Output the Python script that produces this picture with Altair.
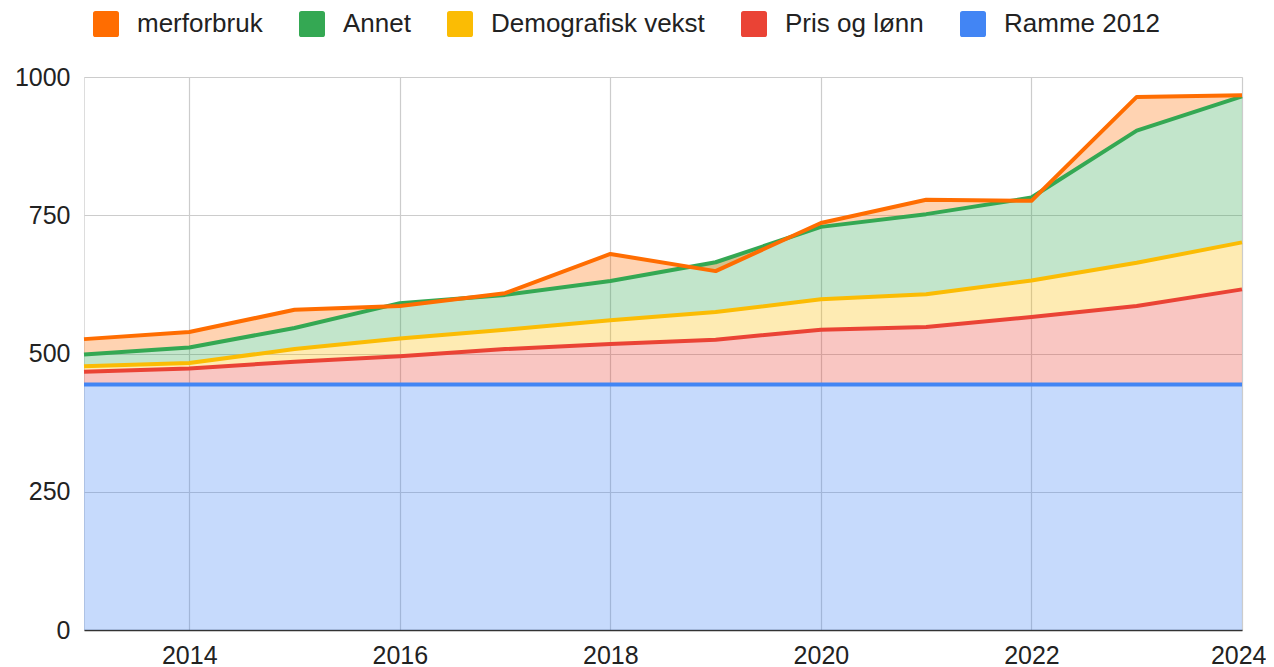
import altair as alt
import pandas as pd

# ---- data ----
years = [2013, 2014, 2015, 2016, 2017, 2018, 2019, 2020, 2021, 2022, 2023, 2024]
ramme_2012 = [444, 444, 444, 444, 444, 444, 444, 444, 444, 444, 444, 444]
pris_og_lonn = [23, 29, 41, 51, 64, 73, 81, 99, 104, 122, 142, 172]
demografisk_vekst = [10, 10, 23, 32, 35, 43, 50, 55, 59, 66, 78, 85]
annet = [21, 28, 38, 64, 63, 71, 90, 131, 145, 150, 239, 264]
merforbruk = [28, 28, 33, -5, 3, 49, -16, 7, 26, -6, 61, 2]

series_names = ["Ramme 2012", "Pris og lønn", "Demografisk vekst", "Annet", "merforbruk"]
series_values = [ramme_2012, pris_og_lonn, demografisk_vekst, annet, merforbruk]
series_colors = ["#4285F4", "#EA4335", "#FBBC04", "#34A853", "#FF6D01"]

y_ticks = [0, 250, 500, 750, 1000]
x_ticks = [2014, 2016, 2018, 2020, 2022, 2024]

# ---- build stacked table (lower / upper bound per series) ----
rows = []
base = [0] * len(years)
for name, vals in zip(series_names, series_values):
    for i, yr in enumerate(years):
        lo = base[i]
        hi = base[i] + vals[i]
        rows.append({"year": yr, "series": name, "lower": lo, "upper": hi})
    base = [b + v for b, v in zip(base, vals)]
df = pd.DataFrame(rows)

legend_order = list(reversed(series_names))
legend_colors = list(reversed(series_colors))

FONT = "Liberation Sans"
rounded_square = ("M-0.8,-1 L0.8,-1 Q1,-1 1,-0.8 L1,0.8 Q1,1 0.8,1 L-0.8,1 "
                  "Q-1,1 -1,0.8 L-1,-0.8 Q-1,-1 -0.8,-1 Z")

x_scale = alt.Scale(domain=[2013, 2024], nice=False, zero=False)
x_enc = alt.X("year:Q", scale=x_scale,
              axis=alt.Axis(values=x_ticks, format="d", title=None,
                            grid=True, gridColor="#cccccc", gridWidth=1.2,
                            ticks=False, tickSize=0, labelPadding=13,
                            labelFontSize=25, labelFont=FONT, labelColor="#222222",
                            domainColor="#333333", domainWidth=1.5,
                            labelFlush=True, labelFlushOffset=24))
y_scale = alt.Scale(domain=[0, 1000], nice=False)
y_axis = alt.Axis(values=y_ticks, format="d", title=None, grid=True,
                  gridColor="#cccccc", gridWidth=1.2, ticks=False, tickSize=0,
                  domain=False, labelPadding=14, labelFontSize=25, labelFont=FONT,
                  labelColor="#222222")

areas = alt.Chart(df).mark_area(fillOpacity=0.3, interpolate="linear").encode(
    x=x_enc,
    y=alt.Y("upper:Q", scale=y_scale, axis=y_axis),
    y2="lower:Q",
    color=alt.Color("series:N",
                    scale=alt.Scale(domain=legend_order, range=legend_colors),
                    sort=legend_order,
                    legend=alt.Legend(orient="none", legendX=9, legendY=-66,
                                      direction="horizontal", title=None,
                                      symbolType=rounded_square, symbolSize=676,
                                      symbolOpacity=1, symbolStrokeWidth=0,
                                      labelFontSize=26, labelFont=FONT,
                                      labelColor="#222222", labelOffset=18,
                                      columnPadding=36, padding=0, offset=0,
                                      labelLimit=500)),
)

lines = []
for name, col in zip(series_names, series_colors):
    lines.append(
        alt.Chart(df[df["series"] == name]).mark_line(
            color=col, strokeWidth=4, strokeJoin="round", strokeCap="butt"
        ).encode(
            x=alt.X("year:Q", scale=x_scale),
            y=alt.Y("upper:Q", scale=y_scale),
        )
    )

chart = alt.layer(areas, *lines).properties(
    width=1158, height=553,
    padding={"left": 76, "top": 69, "right": 24, "bottom": 37},
    autosize=alt.AutoSizeParams(type="none"),
).configure_view(stroke=None).configure(font=FONT)

chart.save("out.html", embed_options={"renderer": "svg", "actions": False})
